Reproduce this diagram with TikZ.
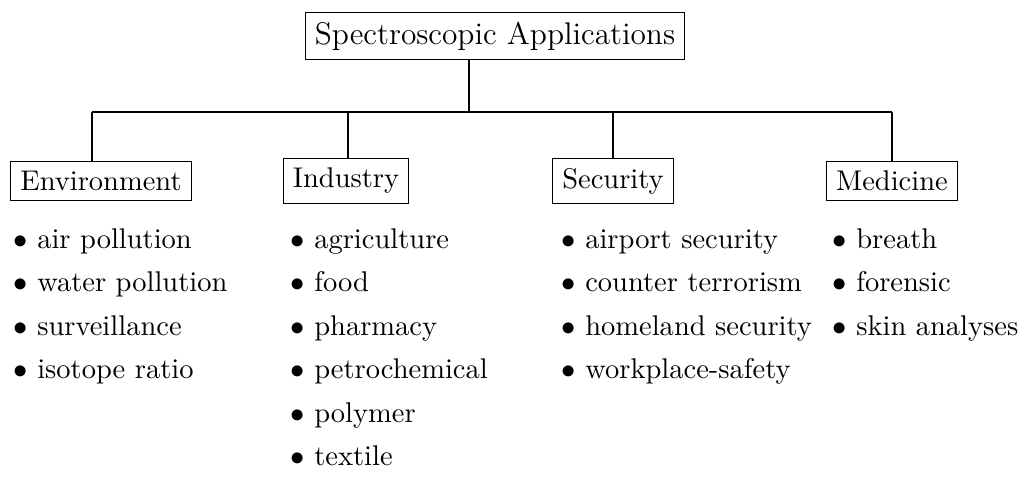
\documentclass[tikz,border=0pt]{standalone}
\usepackage{tikz}
\tikzset{
  catbox/.style={draw, inner sep=3.33pt},
  listitem/.style={anchor=base west, inner sep=0pt}
}

\begin{document}
\begin{tikzpicture}[x=0.3508pt,y=0.3508pt]
		%%%%% START %%%%%
		\useasboundingbox (0,0) rectangle (1021,477);

		\node[catbox, font=\fontsize{11}{13}\selectfont] (apps) at (495,441) {Spectroscopic Applications};

		\node[catbox] (env) at (101,296) {Environment};
		\node[catbox] (ind) at (346,296) {Industry};
		\node[catbox] (sec) at (613,296) {Security};
		\node[catbox] (med) at (892,296) {Medicine};

		% bus line between the root and the four branches
		\coordinate (hub) at (469,365);
		\coordinate (busE) at (92,365);
		\coordinate (busI) at (348,365);
		\coordinate (busS) at (613,365);
		\coordinate (busM) at (892,365);

		\draw (hub |- apps.south) -- (hub);
		\draw (busE) -- (busM);
		\draw (busE) -- (busE |- env.north);
		\draw (busI) -- (busI |- ind.north);
		\draw (busS) -- (busS |- sec.north);
		\draw (busM) -- (busM |- med.north);

		% bullet lists
		\foreach \txt [count=\i] in {air pollution, water pollution, surveillance, isotope ratio}
			\node[listitem] (env-\i) at (13,272.5-43.5*\i) {$\bullet$ \txt};
		\foreach \txt [count=\i] in {agriculture, food, pharmacy, petrochemical, polymer, textile}
			\node[listitem] (ind-\i) at (290,272.5-43.5*\i) {$\bullet$ \txt};
		\foreach \txt [count=\i] in {airport security, counter terrorism, homeland security, workplace-safety}
			\node[listitem] (sec-\i) at (561,272.5-43.5*\i) {$\bullet$ \txt};
		\foreach \txt [count=\i] in {breath, forensic, skin analyses}
			\node[listitem] (med-\i) at (832,272.5-43.5*\i) {$\bullet$ \txt};
		%%%%% END %%%%%
\end{tikzpicture}
\end{document}
